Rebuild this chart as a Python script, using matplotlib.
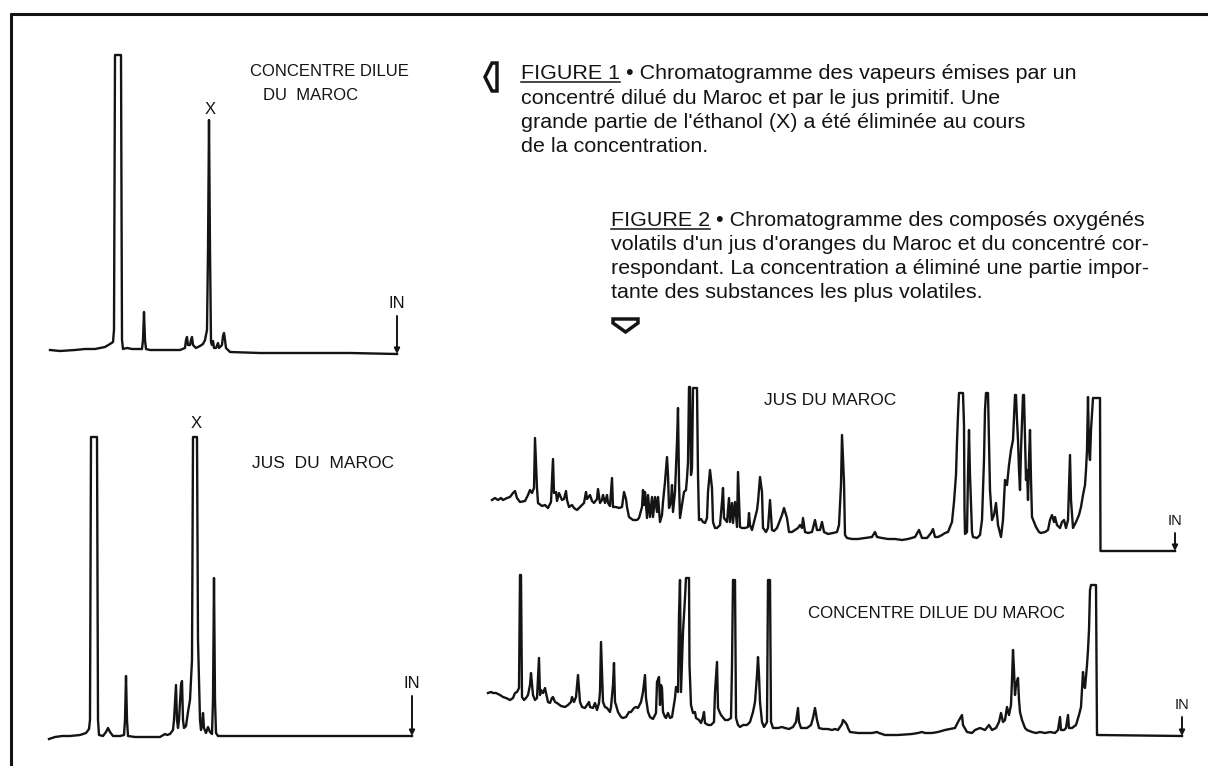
import matplotlib

matplotlib.use("Agg")
import matplotlib.pyplot as plt
from matplotlib.patches import Polygon

W, H = 1208, 766
INK = "#141414"
LABEL_FONT = ["Liberation Sans", "DejaVu Sans"]
CAPTION_FONT = ["Liberation Sans Narrow", "Liberation Sans", "DejaVu Sans"]

# Traces as (retention, detector response) pairs,
# retention running left to right towards the injection mark "IN".

# Figure 1, upper: concentre dilue du Maroc (vapeurs)
FIG1_CONC = [
    (10, 10), (20, 9), (35, 10), (45, 11), (55, 11), (65, 13), (70, 16), (73, 18),
    (74, 30), (75, 305), (81, 305), (82, 20), (83, 11), (87, 12), (92, 11), (98, 11),
    (102, 11), (103, 20), (104, 48), (105, 20), (106, 11), (110, 10), (120, 10),
    (130, 10), (140, 10), (145, 12), (146, 20), (147, 23), (148, 15), (150, 15),
    (151, 20), (152, 23), (153, 15), (156, 12), (160, 14), (163, 16), (165, 20),
    (167, 30), (168, 110), (169, 240), (170, 110), (171, 18), (172, 15), (173, 19),
    (174, 12), (176, 12), (178, 17), (179, 12), (182, 15), (183, 24), (184, 27),
    (185, 20), (186, 12), (190, 8), (220, 7), (260, 7), (310, 7), (357, 6),
]
FIG1_CONC_IN = 357
FIG1_CONC_X = 169

# Figure 1, lower: jus du Maroc (vapeurs)
FIG1_JUS = [
    (9, 11), (15, 13), (22, 14), (30, 14), (40, 15), (46, 17), (49, 21), (50, 30),
    (51, 313), (57, 313), (58, 30), (59, 15), (63, 14), (66, 18), (68, 22), (70, 18),
    (73, 14), (80, 14), (84, 15), (85, 30), (86, 74), (87, 30), (88, 14), (95, 13),
    (110, 13), (120, 13), (125, 16), (127, 15), (130, 16), (133, 20), (134, 30),
    (136, 65), (137, 30), (138, 22), (139, 30), (141, 65), (142, 69), (143, 30),
    (144, 22), (146, 24), (148, 38), (150, 50), (152, 90), (153, 313), (157, 313),
    (158, 110), (160, 30), (161, 20), (162, 25), (163, 37), (164, 22), (166, 17),
    (168, 23), (170, 18), (172, 16), (173, 50), (174, 172), (175, 50), (176, 17),
    (178, 14), (220, 14), (280, 14), (330, 14), (372, 14),
]
FIG1_JUS_IN = 372
FIG1_JUS_X = 155

# Figure 2, upper: jus d'oranges du Maroc (composes oxygenes)
FIG2_JUS = [
    (12, 60), (15, 62), (18, 60), (21, 62), (23, 60), (27, 62), (30, 63), (33, 67),
    (35, 69), (37, 62), (40, 58), (45, 59), (48, 65), (50, 70), (52, 67), (54, 72),
    (55, 122), (57, 72), (58, 57), (62, 54), (65, 55), (68, 52), (71, 58), (73, 101),
    (74, 67), (76, 68), (77, 59), (79, 67), (82, 60), (84, 61), (86, 69), (87, 60),
    (89, 53), (92, 55), (94, 52), (97, 50), (100, 53), (104, 57), (106, 68),
    (107, 61), (110, 65), (112, 59), (114, 57), (117, 61), (118, 71), (120, 57),
    (122, 60), (123, 65), (125, 57), (127, 65), (128, 57), (130, 54), (132, 82),
    (133, 53), (136, 53), (139, 52), (142, 53), (144, 68), (146, 61), (147, 53),
    (149, 43), (153, 40), (157, 40), (159, 42), (162, 53), (163, 70), (164, 55),
    (165, 68), (167, 42), (168, 65), (170, 43), (172, 63), (173, 43), (175, 63),
    (177, 48), (178, 63), (180, 38), (182, 45), (183, 58), (185, 78), (187, 103),
    (188, 85), (189, 52), (191, 58), (192, 75), (193, 48), (195, 68), (197, 118),
    (198, 152), (199, 78), (200, 42), (202, 55), (204, 68), (206, 70), (207, 82),
    (208, 98), (209, 173), (210, 173), (211, 85), (212, 92), (213, 172), (217, 172),
    (218, 85), (219, 40), (221, 41), (223, 38), (225, 37), (227, 42), (228, 68),
    (230, 90), (232, 72), (233, 38), (235, 32), (237, 32), (240, 35), (242, 58),
    (243, 72), (244, 42), (247, 38), (249, 62), (250, 38), (252, 57), (253, 37),
    (255, 58), (257, 33), (258, 88), (260, 33), (262, 32), (265, 32), (268, 33),
    (269, 47), (270, 35), (272, 30), (274, 38), (277, 50), (278, 58), (280, 83),
    (282, 68), (283, 32), (286, 28), (288, 32), (290, 60), (292, 30), (294, 29),
    (297, 32), (302, 45), (304, 52), (307, 42), (309, 28), (312, 28), (315, 30),
    (318, 32), (320, 35), (322, 32), (323, 42), (325, 28), (328, 27), (332, 28),
    (335, 40), (337, 30), (340, 30), (342, 38), (344, 28), (348, 26), (353, 27),
    (357, 28), (359, 35), (361, 75), (362, 125), (364, 78), (365, 25), (367, 22),
    (372, 21), (378, 21), (385, 22), (392, 23), (395, 28), (397, 23), (402, 22),
    (408, 21), (415, 21), (422, 20), (428, 21), (435, 23), (439, 30), (442, 22),
    (447, 22), (451, 27), (453, 31), (455, 23), (458, 23), (462, 25), (465, 27),
    (468, 28), (472, 38), (474, 58), (476, 85), (477, 118), (478, 145), (479, 167),
    (483, 167), (484, 135), (484.5, 52), (485, 26), (487, 28), (488, 85), (489, 130),
    (490, 85), (492, 28), (493, 23), (497, 22), (500, 25), (502, 40), (504, 100),
    (505, 150), (506, 167), (508, 167), (509, 120), (510, 70), (512, 40), (514, 45),
    (516, 57), (518, 35), (521, 23), (523, 40), (525, 80), (527, 75), (529, 95),
    (531, 110), (533, 120), (535, 165), (536, 165), (537, 140), (538, 120), (539, 90),
    (540, 70), (541, 110), (543, 165), (544, 165), (545, 120), (546, 80), (547, 90),
    (548, 60), (549, 100), (550, 130), (551, 80), (552, 43), (554, 38), (556, 33),
    (559, 28), (561, 27), (565, 28), (568, 30), (570, 40), (572, 45), (574, 38),
    (575, 43), (577, 35), (580, 32), (582, 38), (584, 40), (586, 32), (588, 40),
    (590, 105), (591, 60), (593, 32), (596, 38), (599, 45), (601, 53), (603, 65),
    (605, 75), (606, 90), (607, 110), (608, 163), (609, 110), (610, 100), (611, 130),
    (613, 162), (620, 162), (620.5, 9), (695, 9),
]
FIG2_JUS_IN = 695

# Figure 2, lower: concentre dilue du Maroc (composes oxygenes)
FIG2_CONC = [
    (8, 57), (11, 58), (13, 57), (16, 57), (20, 55), (23, 53), (26, 52), (30, 50),
    (33, 52), (35, 57), (37, 58), (39, 62), (40, 175), (41, 175), (42, 53), (44, 50),
    (46, 52), (48, 55), (50, 65), (51, 77), (53, 55), (55, 50), (57, 52), (59, 92),
    (60, 55), (61, 60), (63, 57), (65, 62), (66, 57), (68, 48), (70, 47), (72, 52),
    (73, 53), (75, 48), (77, 47), (81, 44), (85, 43), (88, 45), (91, 48), (92, 53),
    (94, 48), (96, 53), (98, 75), (100, 48), (102, 43), (105, 42), (107, 45),
    (109, 48), (110, 43), (113, 42), (115, 47), (117, 40), (119, 47), (120, 58),
    (121, 108), (123, 48), (125, 43), (127, 42), (130, 38), (131, 43), (133, 65),
    (134, 87), (135, 48), (136, 45), (138, 38), (141, 33), (143, 32), (146, 33),
    (149, 38), (151, 38), (154, 42), (156, 43), (158, 42), (161, 48), (163, 58),
    (165, 75), (166, 52), (168, 38), (170, 33), (173, 31), (176, 37), (177, 68),
    (179, 73), (180, 45), (181, 65), (182, 62), (183, 38), (185, 33), (186, 32),
    (188, 37), (190, 32), (192, 33), (195, 52), (196, 63), (198, 58), (199, 135),
    (200, 170), (201, 58), (203, 118), (205, 152), (206, 172), (209, 172),
    (209.5, 85), (211, 45), (213, 37), (215, 38), (216, 32), (219, 30), (221, 27),
    (223, 33), (224, 38), (225, 27), (228, 25), (231, 25), (234, 28), (235, 58),
    (237, 88), (238, 42), (240, 37), (241, 35), (245, 30), (248, 30), (251, 32),
    (252, 85), (253, 170), (255, 170), (256, 32), (258, 25), (260, 23), (263, 25),
    (267, 25), (270, 28), (273, 38), (275, 48), (277, 75), (278, 93), (279, 75),
    (280, 48), (282, 28), (284, 23), (287, 28), (288, 170), (290, 170), (291, 28),
    (293, 22), (298, 22), (302, 23), (305, 22), (309, 21), (313, 23), (316, 28),
    (318, 42), (319, 28), (321, 22), (327, 22), (331, 25), (333, 32), (335, 42),
    (337, 30), (339, 22), (343, 21), (348, 21), (352, 20), (355, 21), (358, 20),
    (362, 26), (363, 30), (365, 28), (367, 25), (368, 22), (370, 18), (378, 17),
    (392, 17), (397, 18), (399, 17), (405, 15), (418, 15), (432, 16), (438, 17),
    (442, 18), (445, 17), (452, 17), (458, 18), (465, 20), (475, 22), (478, 28),
    (482, 35), (483, 25), (487, 18), (492, 17), (495, 20), (500, 22), (505, 20),
    (509, 25), (512, 20), (516, 22), (519, 28), (521, 37), (523, 28), (525, 30),
    (527, 43), (529, 35), (531, 45), (532, 70), (533, 100), (534, 80), (535, 55),
    (536, 65), (538, 72), (539, 50), (540, 38), (542, 30), (545, 22), (547, 20),
    (552, 18), (556, 17), (560, 18), (565, 17), (570, 18), (575, 17), (578, 20),
    (580, 33), (581, 20), (584, 20), (586, 22), (588, 35), (589, 22), (592, 22),
    (596, 25), (599, 35), (601, 43), (603, 78), (604, 65), (605, 62), (607, 85),
    (608, 100), (609, 120), (610, 160), (611, 165), (616, 165), (617, 15), (702, 14),
]
FIG2_CONC_IN = 702

CAPTION_1 = [
    "concentré dilué du Maroc et par le jus primitif. Une",
    "grande partie de l'éthanol (X) a été éliminée au cours",
    "de la concentration.",
]
CAPTION_2 = [
    "volatils d'un jus d'oranges du Maroc et du concentré cor-",
    "respondant. La concentration a éliminé une partie impor-",
    "tante des substances les plus volatiles.",
]

fig = plt.figure(figsize=(W / 100, H / 100), dpi=100)
fig.patch.set_facecolor("white")

# page layer, in pixel units
page = fig.add_axes([0, 0, 1, 1])
page.set_xlim(0, W)
page.set_ylim(H, 0)
page.set_axis_off()


def trace_axes(left, top, right, bottom):
    ax = fig.add_axes([left / W, 1 - bottom / H, (right - left) / W, (bottom - top) / H])
    ax.set_xlim(0, right - left)
    ax.set_ylim(0, bottom - top)
    ax.set_axis_off()
    return ax


def draw_trace(ax, pts):
    t, s = zip(*pts)
    ax.plot(t, s, color=INK, linewidth=1.7, solid_joinstyle="round")


def injection(ax, pts, t_in, rise, size):
    base = dict(pts)[t_in]
    ax.annotate(
        "", xy=(t_in, base), xytext=(t_in, base + rise),
        arrowprops=dict(arrowstyle="-|>", color=INK, lw=1.4, mutation_scale=8,
                        shrinkA=0, shrinkB=0),
    )
    ax.text(t_in, base + rise + 5, "IN", ha="center", va="bottom",
            fontsize=size, family=LABEL_FONT, color=INK)


def label(ax, t, s, text, size=12, ha="left"):
    ax.text(t, s, text, ha=ha, va="center", fontsize=size, family=LABEL_FONT, color=INK)


# Figure 1
ax = trace_axes(40, 40, 420, 360)
draw_trace(ax, FIG1_CONC)
injection(ax, FIG1_CONC, FIG1_CONC_IN, 38, 12)
label(ax, FIG1_CONC_X + 1, 250, "X", ha="center")
label(ax, 210, 289, "CONCENTRE DILUE")
label(ax, 223, 264, "DU  MAROC")

ax = trace_axes(40, 400, 420, 750)
draw_trace(ax, FIG1_JUS)
injection(ax, FIG1_JUS, FIG1_JUS_IN, 40, 12)
label(ax, FIG1_JUS_X + 1, 326, "X", ha="center")
label(ax, 212, 287, "JUS  DU  MAROC", size=12.5)

# Figure 2
ax = trace_axes(480, 375, 1200, 560)
draw_trace(ax, FIG2_JUS)
injection(ax, FIG2_JUS, FIG2_JUS_IN, 18, 10.5)
label(ax, 284, 159, "JUS DU MAROC", size=12.5)

ax = trace_axes(480, 565, 1200, 750)
draw_trace(ax, FIG2_CONC)
injection(ax, FIG2_CONC, FIG2_CONC_IN, 19, 10.5)
label(ax, 328, 137, "CONCENTRE DILUE DU MAROC", size=12.2)

# frame
page.plot([10, W], [14, 14], color=INK, linewidth=2.2, solid_capstyle="butt")
page.plot([11, 11], [13, H], color=INK, linewidth=2.2, solid_capstyle="butt")

# captions
renderer = fig.canvas.get_renderer()
probe = page.text(0, 0, CAPTION_2[0], fontsize=14, family=CAPTION_FONT)
cap_size = 14 * 541 / probe.get_window_extent(renderer).width
probe.remove()


def caption(x, y, head, rest, lines, lead):
    kw = dict(fontsize=cap_size, family=CAPTION_FONT, color=INK, va="baseline")
    h = page.text(x, y, head, **kw)
    bb = h.get_window_extent(renderer)
    x1 = x + bb.width
    page.plot([x, x1], [y + 3, y + 3], color=INK, linewidth=1.1)
    page.text(x1, y, rest, **kw)
    for i, line in enumerate(lines, 1):
        page.text(x, y + i * lead, line, **kw)


caption(521, 79, "FIGURE 1", " • Chromatogramme des vapeurs émises par un", CAPTION_1, 24.5)
caption(611, 226, "FIGURE 2", " • Chromatogramme des composés oxygénés", CAPTION_2, 24)

# pointer symbols
page.add_patch(Polygon([(485, 77), (492, 63), (497, 63), (497, 91), (492, 91)],
                       closed=True, facecolor="white", edgecolor=INK, linewidth=2.5,
                       joinstyle="miter"))
page.add_patch(Polygon([(613, 319), (638, 319), (638, 323), (625.5, 332), (613, 323)],
                       closed=True, facecolor="white", edgecolor=INK, linewidth=2.5,
                       joinstyle="miter"))

fig.savefig("out.png", dpi=100)
